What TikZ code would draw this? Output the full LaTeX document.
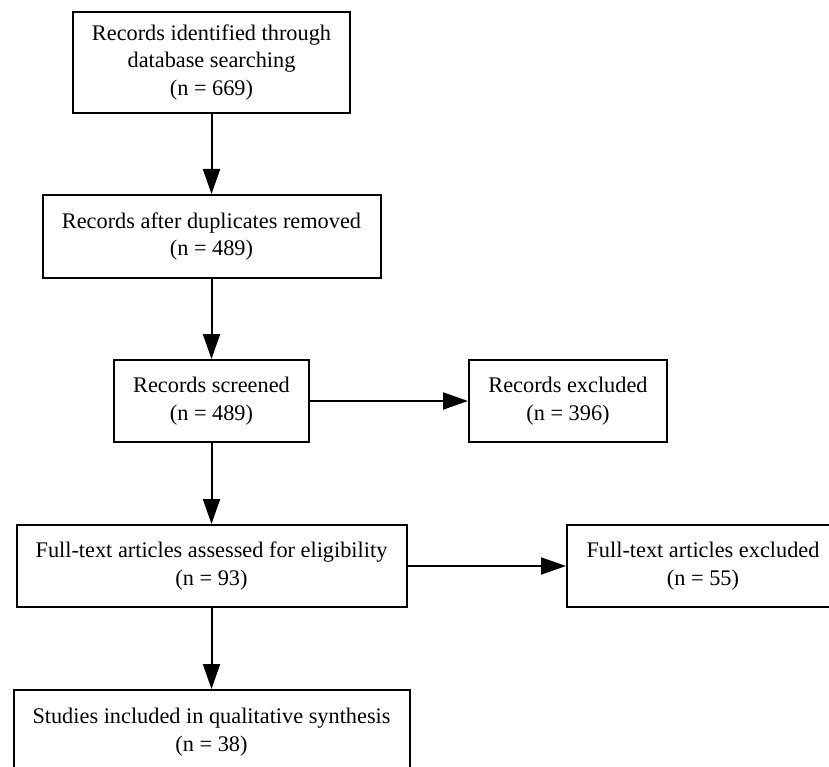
\documentclass[tikz,border=0pt]{standalone}
\usepackage{fontspec}
\setmainfont{Liberation Serif}
\usetikzlibrary{arrows.meta}
\begin{document}
\begin{tikzpicture}[x=1pt,y=-1pt,
  box/.style={draw=black, line width=2pt, rectangle, inner sep=0pt, align=center,
    font=\fontsize{22.3}{27.5}\selectfont},
  arr/.style={line width=2pt, -{Triangle[length=25pt,width=17pt]}}]
\useasboundingbox (0,0) rectangle (829,767);
\clip (0,0) rectangle (829,767);
\node[box, minimum width=277pt, minimum height=101pt] (id) at (211.5,62.5) {Records identified through\\database searching\\(n = 669)};
\node[box, minimum width=338pt, minimum height=83pt] (dup) at (211.5,236.5) {Records after duplicates removed\\(n = 489)};
\node[box, minimum width=195pt, minimum height=82pt] (scr) at (211.5,401) {Records screened\\(n = 489)};
\node[box, minimum width=198pt, minimum height=82pt] (exc) at (568,401) {Records excluded\\(n = 396)};
\node[box, minimum width=390pt, minimum height=82pt] (ft) at (211.5,566) {Full-text articles assessed for eligibility\\(n = 93)};
\node[box, minimum width=272pt, minimum height=82pt] (ftx) at (703,566) {Full-text articles excluded\\(n = 55)};
\node[box, minimum width=396pt, minimum height=84pt] (inc) at (211.5,732) {Studies included in qualitative synthesis\\(n = 38)};
\draw[arr] (id.south) -- (dup.north);
\draw[arr] (dup.south) -- (scr.north);
\draw[arr] (scr.south) -- (ft.north);
\draw[arr] (ft.south) -- (inc.north);
\draw[arr] (scr.east) -- (exc.west);
\draw[arr] (ft.east) -- (ftx.west);
\end{tikzpicture}
\end{document}
